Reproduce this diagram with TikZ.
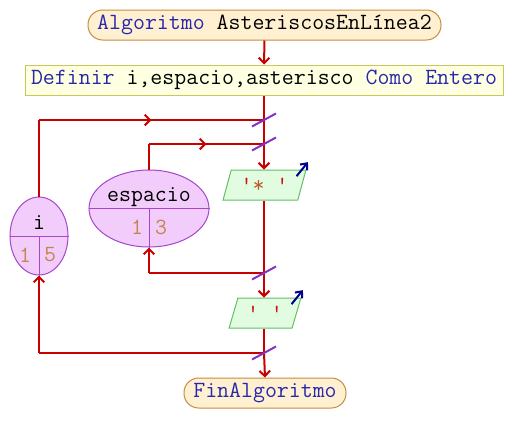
\documentclass[tikz,border=0pt]{standalone}
\usepackage{fontspec}
\usetikzlibrary{arrows.meta,shapes.geometric,decorations.markings}

\definecolor{flujo}{RGB}{200,0,0}
\definecolor{clave}{RGB}{40,40,170}
\definecolor{corte}{RGB}{130,50,200}
\definecolor{numero}{RGB}{192,136,80}
\definecolor{cadena}{RGB}{200,20,20}
\definecolor{estrella}{RGB}{190,90,40}

\tikzset{every picture/.style={line width=0.75pt}}
\tikzset{
  txt/.style={font=\ttfamily\fontsize{17.4}{20}\selectfont},
  inicio/.style={txt,draw={rgb,255:red,200;green,140;blue,60},fill={rgb,255:red,255;green,240;blue,210},rounded corners=11pt,minimum height=22.5pt,inner sep=0pt},
  defbox/.style={txt,draw={rgb,255:red,200;green,200;blue,90},fill={rgb,255:red,255;green,255;blue,225},minimum height=22.5pt,inner sep=0pt},
  contador/.style={draw={rgb,255:red,165;green,70;blue,205},fill={rgb,255:red,242;green,204;blue,250},ellipse,inner sep=0pt},
  salida/.style={txt,trapezium,trapezium left angle=68,trapezium right angle=112,trapezium stretches,draw={rgb,255:red,100;green,190;blue,100},fill={rgb,255:red,226;green,252;blue,226},minimum height=22.5pt,inner sep=0pt},
  linea/.style={draw=flujo,line width=1.5pt},
  flecha/.style={linea,-{Straight Barb[length=4pt,width=8pt]}},
  medio/.style={linea,postaction={decorate},decoration={markings,mark=at position 0.5 with {\arrow{Straight Barb[length=4pt,width=8pt]}}}},
  marca/.style={draw=corte,line width=1.5pt},
  pantalla/.style={draw={rgb,255:red,0;green,0;blue,140},line width=1.5pt,-{Straight Barb[length=4pt,width=7pt]}}
}

\begin{document}
\begin{tikzpicture}[x=0.75pt,y=0.75pt,yscale=-1,xscale=1]
\useasboundingbox (0,0) rectangle (515,443);

% Nodes
\node[inicio,minimum width=264.75pt] (ini) at (264.5,25) {{\color{clave}Algoritmo} AsteriscosEnLínea2};
\node[defbox,minimum width=358.5pt] (def) at (264,80) {{\color{clave}Definir} i,espacio,asterisco {\color{clave}Como Entero}};
\node[contador,minimum width=43.5pt,minimum height=58.5pt] (vi) at (39,236) {};
\node[contador,minimum width=90pt,minimum height=57.75pt] (vesp) at (149,208.5) {};
\node[salida,minimum width=62.25pt] (out1) at (264.5,185) {\color{cadena}'\color{estrella}*\color{cadena}~'};
\node[salida,minimum width=54pt] (out2) at (265,313) {\color{cadena}'~'};
\node[inicio,minimum width=121.5pt] (fin) at (265,393) {\color{clave}FinAlgoritmo};

% Junctions
\coordinate (j1) at (264,120);
\coordinate (j2) at (264,144);
\coordinate (j3) at (264,273);
\coordinate (j4) at (264,353);

% Counter contents
\draw[draw={rgb,255:red,165;green,70;blue,205}] (vi.west) -- (vi.east);
\draw[draw={rgb,255:red,165;green,70;blue,205}] (vi.center) -- ([yshift=5.25pt]vi.south);
\node[txt,inner sep=0pt] (vin) at (39,223) {i};
\node[txt,inner sep=0pt,text=numero] (vi1) at (25,255) {1};
\node[txt,inner sep=0pt,text=numero] (vi2) at (50,255) {5};
\draw[draw={rgb,255:red,165;green,70;blue,205}] (vesp.west) -- (vesp.east);
\draw[draw={rgb,255:red,165;green,70;blue,205}] (vesp.center) -- ([yshift=3.75pt]vesp.south);
\node[txt,inner sep=0pt] (vespn) at (149,197) {espacio};
\node[txt,inner sep=0pt,text=numero] (vesp1) at (137,227) {1};
\node[txt,inner sep=0pt,text=numero] (vesp2) at (161,227) {3};

% Main flow
\draw[flecha] (ini.south) -- (def.north);
\draw[linea] (def.south) -- (j1) -- (j2);
\draw[flecha] (j2) -- (j2 |- out1.top side);
\draw[linea] (j3 |- out1.bottom side) -- (j3);
\draw[flecha] (j3) -- (j3 |- out2.top side);
\draw[linea] (j4 |- out2.bottom side) -- (j4);
\draw[flecha] (j4) -- (fin.north);

% Loops
\draw[linea] (vi.north) -- (vi.north |- j1);
\draw[medio] (vi.north |- j1) -- (j1);
\draw[linea] (vesp.north) -- (vesp.north |- j2);
\draw[medio] (vesp.north |- j2) -- (j2);
\draw[linea] (j3) -- (vesp.south |- j3);
\draw[flecha] (vesp.south |- j3) -- (vesp.south);
\draw[linea] (j4) -- (vi.south |- j4);
\draw[flecha] (vi.south |- j4) -- (vi.south);

% Loop marks
\foreach \j in {j1,j2,j3,j4}
  \draw[marca] ([xshift=-9pt,yshift=4.9pt]\j) -- ([xshift=9pt,yshift=-4.9pt]\j);

% Output arrows
\draw[pantalla] ([xshift=-7.5pt,yshift=5pt]out1.top right corner) -- ([xshift=1pt,yshift=-5.5pt]out1.top right corner);
\draw[pantalla] ([xshift=-7.5pt,yshift=5pt]out2.top right corner) -- ([xshift=1pt,yshift=-5.5pt]out2.top right corner);

\end{tikzpicture}
\end{document}
